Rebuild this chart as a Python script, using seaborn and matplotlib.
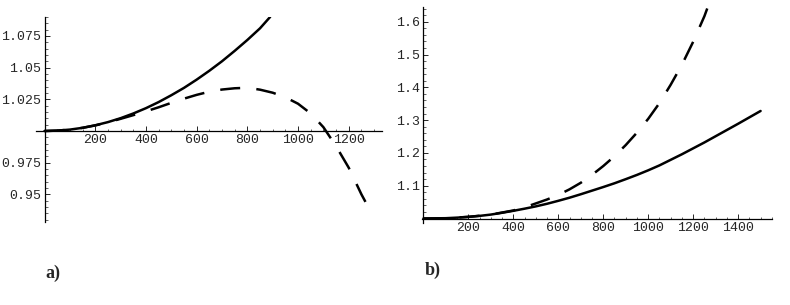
import pandas as pd
import seaborn as sns
import matplotlib.pyplot as plt
from matplotlib.ticker import MultipleLocator

# panel a) values
a_solid_x = [0, 50, 100, 150, 200, 250, 300, 350, 400, 450, 500, 550, 600, 650,
             700, 750, 800, 850, 890]
a_solid_y = [1.0, 1.0003, 1.0011, 1.0025, 1.0045, 1.007, 1.0101, 1.0138, 1.018, 1.0228,
             1.0282, 1.034, 1.0405, 1.0475, 1.055, 1.0632, 1.0718, 1.081, 1.090]
a_dash_x = [0, 50, 100, 150, 200, 250, 300, 350, 400, 450, 500, 550, 600, 650, 700,
            750, 800, 850, 900, 950, 1000, 1050, 1100, 1150, 1200, 1250, 1285]
a_dash_y = [1.0, 1.0003, 1.0011, 1.0025, 1.0044, 1.0068, 1.0096, 1.0125, 1.0155, 1.0187,
            1.0222, 1.0255, 1.0285, 1.031, 1.0327, 1.0337, 1.0341, 1.0326, 1.0302, 1.0266,
            1.0215, 1.0138, 1.003, 0.988, 0.971, 0.950, 0.937]
a_xticks = [200, 400, 600, 800, 1000, 1200]
a_yticks = [0.95, 0.975, 1.025, 1.05, 1.075]
a_ylabels = ['0.95', '0.975', '1.025', '1.05', '1.075']

# panel b)
b_solid_x = [0, 50, 100, 150, 200, 250, 300, 350, 400, 450, 500, 550, 600, 650, 700,
             750, 800, 850, 900, 950, 1000, 1050, 1100, 1150, 1200, 1250, 1300, 1350,
             1400, 1450, 1500]
b_solid_y = [1.0, 1.0003, 1.001, 1.0027, 1.005, 1.008, 1.012, 1.0175, 1.0235, 1.030,
             1.037, 1.045, 1.054, 1.0635, 1.074, 1.085, 1.096, 1.1075, 1.120, 1.133,
             1.147, 1.162, 1.179, 1.196, 1.214, 1.232, 1.251, 1.270, 1.289, 1.3085, 1.328]
b_dash_x = [0, 100, 200, 300, 400, 450, 500, 550, 600, 650, 700, 750, 800, 850, 900,
            950, 1000, 1050, 1100, 1150, 1200, 1250, 1265]
b_dash_y = [1.0, 1.001, 1.005, 1.012, 1.0245, 1.034, 1.046, 1.058, 1.072, 1.089, 1.109,
            1.133, 1.160, 1.190, 1.224, 1.262, 1.304, 1.352, 1.408, 1.469, 1.539, 1.617, 1.645]
b_xticks = [200, 400, 600, 800, 1000, 1200, 1400]
b_yticks = [1.1, 1.2, 1.3, 1.4, 1.5, 1.6]
b_ylabels = ['1.1', '1.2', '1.3', '1.4', '1.5', '1.6']


def make_df(sx, sy, dx, dy):
    d1 = pd.DataFrame({'x': sx, 'y': sy, 'curve': 'solid'})
    d2 = pd.DataFrame({'x': dx, 'y': dy, 'curve': 'dashed'})
    return pd.concat([d1, d2], ignore_index=True)


sns.set_style('white')
plt.rcParams['font.family'] = ['Liberation Mono', 'DejaVu Sans Mono']

fig = plt.figure(figsize=(7.9, 3.05), dpi=100)
ax_a = fig.add_axes([0.0451, 0.2712, 0.4381, 0.6734])
ax_b = fig.add_axes([0.5337, 0.2685, 0.4433, 0.7095])

panels = [
    (ax_a, make_df(a_solid_x, a_solid_y, a_dash_x, a_dash_y), (-35, 1330), (0.928, 1.09),
     a_xticks, a_yticks, a_ylabels, 50, 0.005),
    (ax_b, make_df(b_solid_x, b_solid_y, b_dash_x, b_dash_y), (-8, 1550), (0.986, 1.646),
     b_xticks, b_yticks, b_ylabels, 50, 0.02),
]

for ax, df, xl, yl, xt, yt, ylab, xminor, yminor in panels:
    sns.lineplot(data=df, x='x', y='y', style='curve',
                 dashes={'solid': '', 'dashed': (8, 6.5)},
                 color='black', linewidth=1.8, legend=False, ax=ax)
    ax.set_xlim(*xl)
    ax.set_ylim(*yl)
    ax.set_xlabel('')
    ax.set_ylabel('')
    # mathematica-style axes crossing at (0, 1)
    ax.spines['left'].set_position(('data', 0))
    ax.spines['bottom'].set_position(('data', 1))
    ax.spines['top'].set_visible(False)
    ax.spines['right'].set_visible(False)
    for s in ['left', 'bottom']:
        ax.spines[s].set_linewidth(0.9)
        ax.spines[s].set_color('black')
    ax.set_xticks(xt)
    ax.set_xticklabels([str(v) for v in xt])
    ax.set_yticks(yt)
    ax.set_yticklabels(ylab)
    ax.xaxis.set_minor_locator(MultipleLocator(xminor))
    ax.yaxis.set_minor_locator(MultipleLocator(yminor))
    ax.tick_params(which='major', direction='in', length=3.5, width=0.7,
                   labelsize=9.5, pad=2.5, bottom=True, left=True)
    ax.tick_params(which='minor', direction='in', length=1.8, width=0.5,
                   bottom=True, left=True)
    ax.set_facecolor('none')

fig.text(0.057, 0.09, 'a)', family='Liberation Serif', fontweight='bold', fontsize=13)
fig.text(0.538, 0.10, 'b)', family='Liberation Serif', fontweight='bold', fontsize=13)

plt.savefig('out.png', dpi=100)
plt.close()
